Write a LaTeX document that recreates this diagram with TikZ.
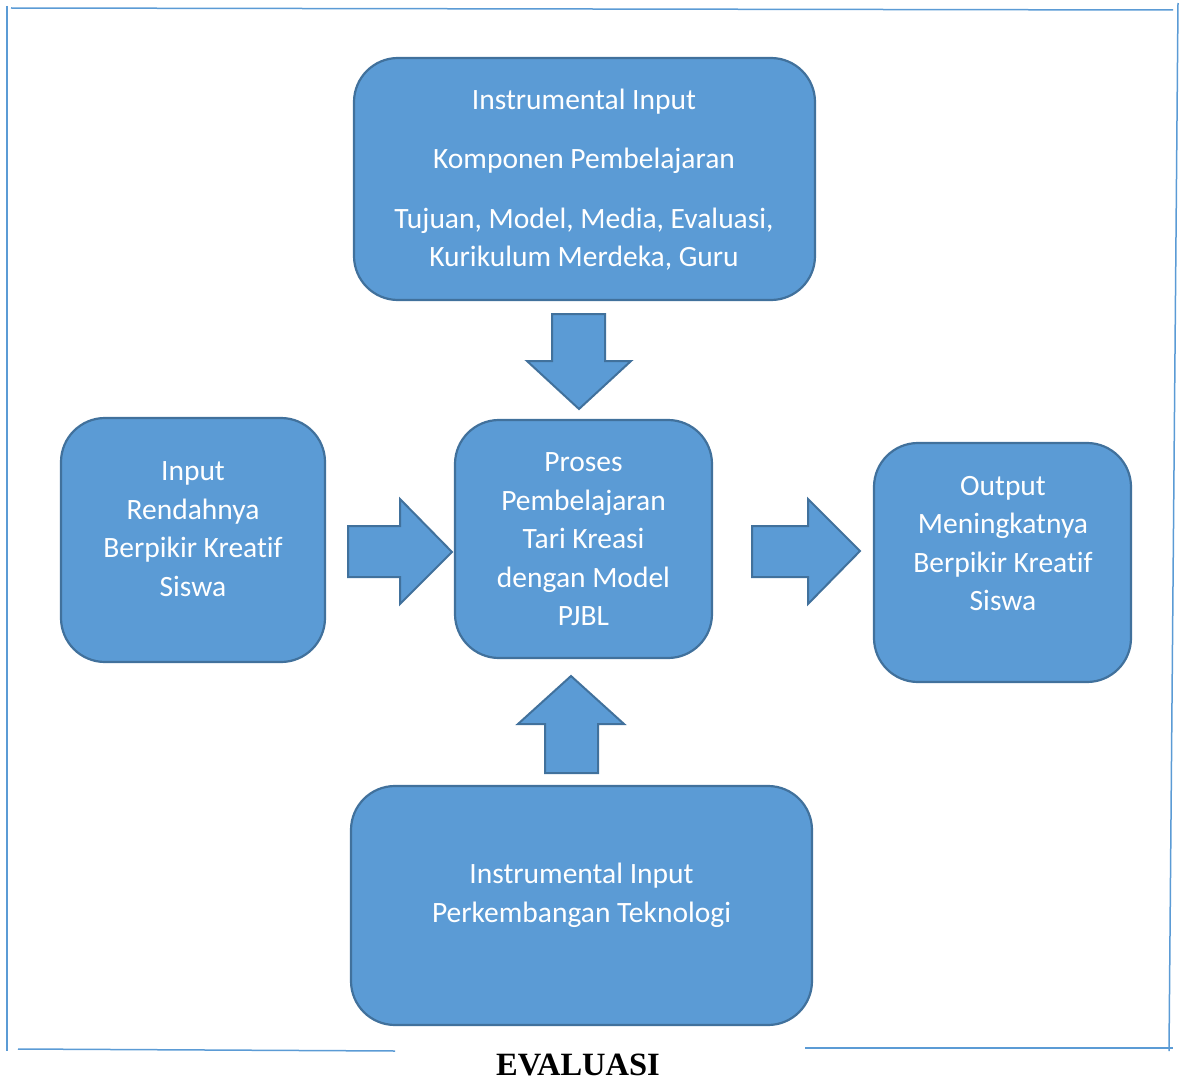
\documentclass[tikz,border=0pt]{standalone}
\usepackage{fontspec}
\setmainfont{Carlito}[Ligatures=NoCommon]
\newfontfamily\timesfont{Liberation Serif}
\definecolor{boxfill}{HTML}{5B9BD5}
\definecolor{boxline}{HTML}{41719C}
\definecolor{frameline}{HTML}{5B9BD5}
\begin{document}
\begin{tikzpicture}[x=1pt,y=-1pt,
  blockbox/.style={draw=boxline,fill=boxfill,line width=2.2pt,rounded corners=44pt,inner sep=0pt},
  boxtext/.style={text=white,align=center,font=\fontsize{29.5}{38.5}\selectfont,inner sep=0pt},
  blockarrow/.style={draw=boxline,fill=boxfill,line width=2pt,line join=miter},
  frame/.style={draw=frameline,line width=1.5pt}]
\useasboundingbox (0,0) rectangle (1181,1081);
% frame lines
\draw[frame] (11,8) -- (1173,10);
\draw[frame] (7,6) -- (7,1051);
\draw[frame] (1178,3) -- (1169,1051);
\draw[frame] (18,1049) -- (395,1051);
\draw[frame] (805,1048) -- (1173,1048);
% boxes
\node[blockbox,minimum width=461pt,minimum height=242pt] (top) at (584.5,179) {};
\node[blockbox,minimum width=264pt,minimum height=244pt] (left) at (193,540) {};
\node[blockbox,minimum width=257pt,minimum height=238pt] (mid) at (583.5,539) {};
\node[blockbox,minimum width=257pt,minimum height=239pt] (right) at (1002.5,562.5) {};
\node[blockbox,minimum width=461pt,minimum height=239pt] (bot) at (581.5,905.5) {};
% texts
\node[boxtext] (toptext) at (584,179.5) {Instrumental Input\\[21pt]Komponen Pembelajaran\\[21pt]Tujuan, Model, Media, Evaluasi,\\Kurikulum Merdeka, Guru};
\node[boxtext] (lefttext) at (193,529) {Input\\Rendahnya\\Berpikir Kreatif\\Siswa};
\node[boxtext] (midtext) at (583.5,539.5) {Proses\\Pembelajaran\\Tari Kreasi\\dengan Model\\PJBL};
\node[boxtext] (righttext) at (1003,543.5) {Output\\Meningkatnya\\Berpikir Kreatif\\Siswa};
\node[boxtext] (bottext) at (581.5,895.5) {Instrumental Input\\Perkembangan Teknologi};
% block arrows
\draw[blockarrow] (552,314) -- (605,314) -- (605,361) -- (631,361) -- (579,409) -- (527,361) -- (552,361) -- cycle;
\draw[blockarrow] (545,773) -- (598,773) -- (598,724) -- (624,724) -- (571,676) -- (518,724) -- (545,724) -- cycle;
\draw[blockarrow] (348,526) -- (400,526) -- (400,499) -- (452,552) -- (400,604) -- (400,577) -- (348,577) -- cycle;
\draw[blockarrow] (752,526) -- (808,526) -- (808,499) -- (860,551) -- (808,604) -- (808,577) -- (752,577) -- cycle;
% caption
\node[font=\timesfont\bfseries\fontsize{32.5}{36}\selectfont,inner sep=0pt] (eval) at (578,1065) {EVALUASI};
\end{tikzpicture}
\end{document}
